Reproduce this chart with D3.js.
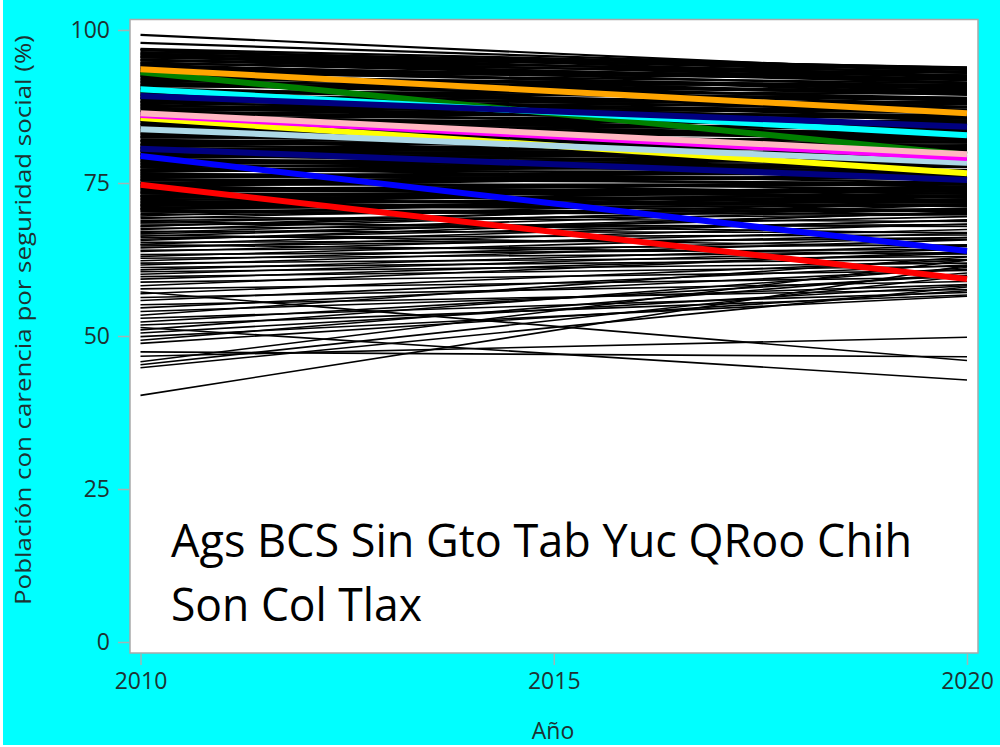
<!DOCTYPE html>
<html>
<head>
<meta charset="utf-8">
<script src="https://cdn.jsdelivr.net/npm/d3@7"></script>
<style>
  body { margin: 0; background: #fff; }
  text { font-family: "Open Sans", sans-serif; }
</style>
</head>
<body>
<div id="chart"></div>
<script>
// years on the x axis
const anios = [2010, 2020];

// municipalities: % population lacking social security, 2010 and 2020 (same order)
const muni2010 = [
  99.2, 97.9,
  96.9, 96.7, 96.4, 96.2, 95.9, 95.7, 95.5, 95.2, 95.0, 94.7,
  94.5, 94.3, 94.0, 93.8, 93.6, 93.3, 93.1, 92.9, 92.6, 92.4,
  92.2, 91.9, 91.7, 91.5, 91.2, 91.0, 90.8, 90.5, 90.3, 90.1,
  89.8, 89.6, 89.4, 89.1, 88.9, 88.7, 88.4, 88.2, 88.0, 87.7,
  87.5, 87.3, 87.0, 86.8, 86.6, 86.3, 86.1, 85.9, 85.6, 85.4,
  85.2, 84.9, 84.7, 84.5, 84.2, 84.0, 83.8, 83.5, 83.3, 83.1,
  82.8, 82.6, 82.4, 82.1, 81.9, 81.7, 81.4, 81.2, 81.0, 80.7,
  80.5, 80.3, 80.0, 79.8, 79.6, 79.3, 79.1, 78.9, 78.6, 78.4,
  78.2, 77.9, 77.7, 77.5, 77.2, 77.0, 76.8, 76.5, 76.3, 76.1,
  75.8, 75.6, 75.4, 75.1, 74.9, 74.7, 74.4, 74.2, 74.0, 73.7,
  73.5, 73.3, 73.0, 72.8, 72.6, 72.3, 72.1, 71.9, 71.6, 71.4,
  71.2, 70.9, 70.7, 70.5,
  96.8, 96.1, 95.6, 95.1, 94.6, 94.2, 93.5, 93.0, 92.5, 92.0,
  91.4, 90.9, 90.4, 89.9, 89.3, 88.8, 88.3, 87.8, 87.2, 86.7,
  86.2, 85.7, 85.1, 84.6, 84.1, 83.6, 83.0, 82.5, 81.9, 81.3,
  80.8, 80.2, 79.7, 79.2, 78.7, 78.1, 77.6, 77.1, 76.6, 76.0,
  75.5, 75.0, 74.5, 73.9, 73.4, 72.9, 72.4, 71.8, 71.3, 70.8,
  70.3, 70.0, 69.8, 69.6, 69.4, 69.2, 68.9, 68.7, 68.5, 68.3,
  68.0, 67.9, 67.6, 67.4, 67.1, 66.9, 66.7, 66.5, 66.3, 66.1,
  65.8, 65.6, 65.3, 65.0, 64.9, 64.7, 64.4, 64.0, 63.8, 63.3,
  63.0, 62.7, 62.3, 61.9, 61.6, 61.2, 60.8, 60.5, 60.1, 59.7,
  59.3,
  58.8, 58.2, 57.7, 57.2, 56.9, 56.3, 55.8, 55.1, 54.6, 54.0,
  53.4, 52.9, 52.3, 51.8, 51.4, 51.0, 50.5, 49.9, 49.3, 48.8,
  47.4, 46.7, 45.8, 45.3, 44.8, 40.3
];
const muni2020 = [
  93.1, 93.5,
  93.8, 93.0, 93.9, 92.2, 93.5, 92.6, 93.8, 91.4, 92.5, 91.4,
  93.0, 90.8, 91.8, 90.0, 91.9, 90.5, 92.1, 89.5, 90.4, 89.4,
  91.0, 88.7, 89.8, 87.9, 89.8, 88.5, 90.2, 87.4, 88.5, 87.5,
  88.9, 86.8, 87.9, 85.8, 87.9, 86.6, 88.2, 85.5, 86.5, 85.5,
  87.0, 84.8, 85.9, 83.9, 86.0, 84.6, 86.2, 83.6, 84.5, 83.6,
  85.1, 82.9, 84.0, 82.0, 84.0, 82.7, 84.3, 81.6, 82.6, 81.7,
  83.1, 80.9, 82.1, 80.0, 82.1, 80.8, 82.4, 79.7, 80.7, 79.6,
  81.2, 79.0, 80.1, 78.1, 80.1, 78.8, 80.4, 77.7, 78.7, 77.7,
  79.2, 77.0, 78.1, 76.1, 78.1, 76.8, 78.4, 75.7, 76.7, 75.7,
  77.1, 75.0, 76.1, 74.1, 76.1, 74.8, 76.4, 73.7, 74.8, 73.7,
  75.2, 73.0, 74.1, 72.2, 74.2, 72.9, 74.5, 71.8, 72.8, 71.5,
  73.4, 71.3, 72.3, 70.4,
  92.4, 93.7, 91.9, 93.2, 92.0, 89.6, 92.6, 91.3, 88.6, 90.7,
  88.9, 91.1, 86.9, 89.6, 87.0, 85.2, 87.4, 84.2, 86.6, 84.0,
  82.8, 85.7, 82.2, 85.2, 81.0, 83.4, 80.4, 83.0, 79.2, 81.6,
  78.2, 80.8, 77.0, 79.6, 76.4, 78.6, 75.0, 77.6, 74.4, 76.6,
  73.2, 75.9, 72.6, 74.9, 71.9, 73.6, 71.2, 73.9, 70.6, 72.7,
  69.9, 73.0, 70.6, 74.0, 68.7, 72.4, 69.8, 66.8, 71.6, 67.9,
  70.9, 72.2, 68.2, 71.4, 66.9, 70.8, 69.5, 64.6, 70.2, 66.5,
  68.9, 70.3, 65.8, 69.0, 63.4, 66.1, 68.3, 64.9, 67.4, 64.2,
  66.8, 63.6, 66.1, 63.0, 65.7, 62.5, 64.8, 61.9, 64.2, 61.4,
  63.5,
  60.7, 63.8, 59.6, 46.0, 62.4, 58.9, 61.6, 57.6, 60.9, 58.4,
  62.9, 57.1, 59.9, 56.7, 42.8, 61.2, 58.2, 56.5, 60.3, 57.4,
  46.6, 49.8, 62.4, 59.8, 58.0, 61.5
];

// highlighted states (drawing order), 2010 and 2020
const estados2010 = [93.1, 93.6, 90.3, 89.2, 85.6, 83.8, 86.1, 86.4, 80.6, 79.4, 74.7];
const estados2020 = [79.6, 86.4, 82.8, 84.2, 76.6, 78.3, 79.1, 79.7, 75.5, 63.9, 59.3];
const coloresEstados = ["#008000", "#ffa500", "#00ffff", "#000080", "#ffff00", "#add8e6",
                        "#ff00ff", "#ffb6c1", "#000080", "#0000ff", "#ff0000"];

const ticksY = [0, 25, 50, 75, 100];
const ticksX = [2010, 2015, 2020];
const textoEstados = ["Ags BCS Sin Gto Tab Yuc QRoo Chih", "Son Col Tlax"];

const width = 1000, height = 747;

const svg = d3.select("#chart").append("svg")
  .attr("width", width)
  .attr("height", height);

// background
svg.append("rect")
  .attr("x", 3).attr("y", 0)
  .attr("width", width - 3).attr("height", height - 2)
  .attr("fill", "#00ffff");

// plot frame
svg.append("rect")
  .attr("x", 130).attr("y", 19.5)
  .attr("width", 848).attr("height", 633.5)
  .attr("fill", "#fff")
  .attr("stroke", "#a9a9a9")
  .attr("stroke-width", 1.5);

// scales
const x = d3.scaleLinear().domain([2010, 2020]).range([140.5, 967]);
const y = d3.scaleLinear().domain([0, 100]).range([642, 30]);

const line = d3.line()
  .x(d => x(d[0]))
  .y(d => y(d[1]));

// municipality lines (thinner where they are sparse)
const muni = muni2010.map((v, i) => [[anios[0], v], [anios[1], muni2020[i]]]);
svg.append("g")
  .selectAll("path")
  .data(muni)
  .enter()
  .append("path")
  .attr("d", line)
  .attr("fill", "none")
  .attr("stroke", "#000")
  .attr("stroke-width", d => d[0][1] > 70 ? 2.2 : 1.6);

// state lines
const estados = estados2010.map((v, i) => [[anios[0], v], [anios[1], estados2020[i]]]);
svg.append("g")
  .selectAll("path")
  .data(estados)
  .enter()
  .append("path")
  .attr("d", line)
  .attr("fill", "none")
  .attr("stroke", (d, i) => coloresEstados[i])
  .attr("stroke-width", 6);

// y axis
const yAxis = svg.append("g")
  .attr("transform", "translate(129,0)")
  .call(d3.axisLeft(y).tickValues(ticksY).tickSize(11).tickPadding(8));
yAxis.select(".domain").remove();
yAxis.selectAll("line").attr("stroke", "#a0b4b4").attr("stroke-width", 1.5);
yAxis.selectAll("text")
  .attr("fill", "#1e3232")
  .style("font-size", "23px");

// x axis
const xAxis = svg.append("g")
  .attr("transform", "translate(0,654)")
  .call(d3.axisBottom(x).tickValues(ticksX).tickFormat(d3.format("d")).tickSize(11).tickPadding(8));
xAxis.select(".domain").remove();
xAxis.selectAll("line").attr("stroke", "#a0b4b4").attr("stroke-width", 1.5);
xAxis.selectAll("text")
  .attr("fill", "#1e3232")
  .style("font-size", "23px");

// axis titles
svg.append("text")
  .attr("x", 553).attr("y", 739)
  .attr("text-anchor", "middle")
  .attr("fill", "#1e3232")
  .style("font-size", "23px")
  .text("Año");

svg.append("text")
  .attr("transform", "translate(31,320)rotate(-90)")
  .attr("text-anchor", "middle")
  .attr("fill", "#1e3232")
  .attr("textLength", 570)
  .attr("lengthAdjust", "spacingAndGlyphs")
  .style("font-size", "22px")
  .text("Población con carencia por seguridad social (%)");

// states annotation
const anchos = [741, 251];
svg.selectAll(".nota")
  .data(textoEstados)
  .enter()
  .append("text")
  .attr("class", "nota")
  .attr("x", 171)
  .attr("y", (d, i) => 557 + i * 64)
  .attr("textLength", (d, i) => anchos[i])
  .attr("lengthAdjust", "spacingAndGlyphs")
  .attr("fill", "#000")
  .style("font-size", "45px")
  .text(d => d);
</script>
</body>
</html>
